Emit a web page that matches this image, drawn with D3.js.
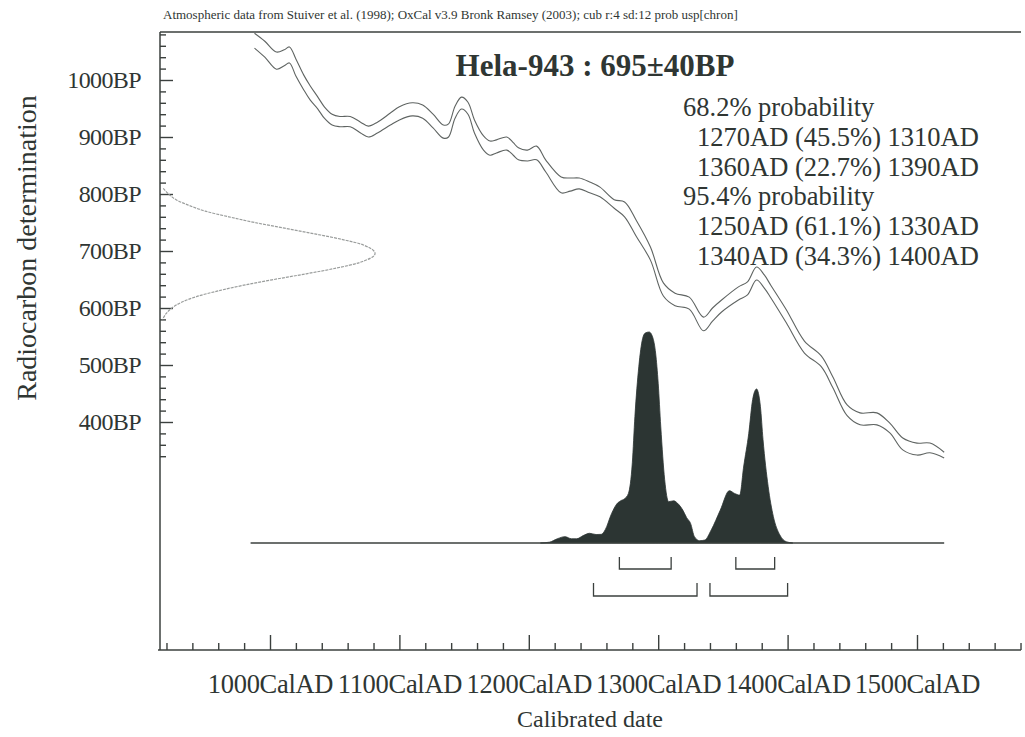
<!DOCTYPE html>
<html><head><meta charset="utf-8">
<script src="https://cdn.jsdelivr.net/npm/d3@7"></script>
<style>
html,body{margin:0;padding:0;background:#fff;}
svg{display:block;}
text{font-family:"Liberation Serif","Times New Roman",serif;fill:#2f3633;}
</style></head><body>
<svg id="chart" width="1025" height="737"></svg>
<script>
// ---------------- DATA ----------------
const headerText = "Atmospheric data from Stuiver et al. (1998); OxCal v3.9 Bronk Ramsey (2003); cub r:4 sd:12 prob usp[chron]";
const sampleTitle = "Hela-943 : 695\u00B140BP";
const xAxisTitle = "Calibrated date";
const yAxisTitle = "Radiocarbon determination";

const xMajorTicks = [1000, 1100, 1200, 1300, 1400, 1500];
const xTickSuffix = "CalAD";
const yMajorTicks = [400, 500, 600, 700, 800, 900, 1000];
const yTickSuffix = "BP";

// probability ranges
const probHeadings = ["68.2% probability", "95.4% probability"];
const ranges68 = [[1270, 1310], [1360, 1390]];
const pct68 = ["45.5", "22.7"];
const ranges95 = [[1250, 1330], [1340, 1400]];
const pct95 = ["61.1", "34.3"];

// calibration curve (upper and lower 1-sigma envelopes), years AD vs BP
const calYears = [988, 996, 1005, 1011, 1015, 1020, 1026, 1031, 1037, 1042, 1048, 1054, 1062, 1070, 1076, 1083, 1093, 1100, 1110, 1118, 1126, 1134, 1138, 1143, 1148, 1153, 1158, 1165, 1170, 1175, 1183, 1188, 1192, 1199, 1206, 1213, 1225, 1232, 1239, 1247, 1255, 1266, 1274, 1283, 1294, 1304, 1313, 1324, 1335, 1342, 1349, 1362, 1369, 1376, 1382, 1387, 1399, 1413, 1426, 1435, 1446, 1456, 1469, 1479, 1489, 1500, 1510, 1521];
const calUpper = [1082, 1068, 1049, 1053, 1058, 1037, 1009, 990, 970, 953, 940, 936, 936, 926, 919, 926, 942, 953, 960, 956, 940, 921, 923, 954, 970, 961, 930, 902, 893, 895, 900, 890, 881, 877, 884, 860, 830, 828, 828, 821, 812, 790, 786, 754, 707, 644, 626, 619, 584, 600, 614, 637, 646, 672, 658, 640, 597, 542, 516, 479, 430, 416, 416, 398, 372, 363, 363, 347];
const calLower = [1056, 1040, 1019, 1025, 1030, 1007, 983, 965, 949, 933, 921, 918, 918, 907, 900, 907, 921, 930, 937, 933, 916, 898, 900, 933, 949, 940, 907, 877, 868, 872, 877, 868, 860, 858, 860, 839, 802, 805, 809, 802, 795, 775, 760, 726, 684, 621, 604, 598, 560, 577, 593, 614, 623, 649, 635, 618, 574, 521, 497, 460, 411, 395, 395, 381, 351, 342, 346, 337];
const calRange = [985, 1521];

// calibrated probability distribution (relative)
const probYears = [1209, 1216, 1222, 1228, 1233, 1237, 1242, 1247, 1252, 1256, 1259, 1264, 1268, 1271, 1274, 1277, 1280, 1282, 1285, 1288, 1290, 1293, 1296, 1298, 1300, 1302, 1305, 1308, 1312, 1315, 1319, 1322, 1325, 1328, 1332, 1336, 1341, 1348, 1355, 1359, 1363, 1366, 1370, 1373, 1376, 1379, 1381, 1385, 1389, 1394, 1399, 1404];
const probValues = [0.0, 0.004, 0.02, 0.03, 0.02, 0.02, 0.035, 0.046, 0.04, 0.041, 0.062, 0.14, 0.185, 0.2, 0.21, 0.235, 0.38, 0.6, 0.835, 0.97, 0.995, 1.0, 0.97, 0.9, 0.757, 0.55, 0.3, 0.196, 0.2, 0.188, 0.156, 0.12, 0.093, 0.03, 0.011, 0.014, 0.062, 0.156, 0.248, 0.235, 0.227, 0.36, 0.52, 0.68, 0.73, 0.646, 0.49, 0.267, 0.125, 0.038, 0.006, 0.0];

// radiocarbon measurement distribution (relative), BP
const measBP = [810, 800, 790, 780, 770, 760, 750, 740, 730, 720, 710, 700, 695, 690, 680, 670, 660, 650, 640, 630, 620, 610, 600, 590, 580];
const measDensity = [0.015, 0.04, 0.075, 0.135, 0.21, 0.32, 0.44, 0.58, 0.72, 0.85, 0.95, 0.995, 1.0, 0.99, 0.93, 0.82, 0.68, 0.53, 0.39, 0.27, 0.17, 0.1, 0.055, 0.028, 0.012];

// ---------------- CHART ----------------
const svg = d3.select("#chart");
const ink = "#2f3633";
const frameL = 160, frameR = 1021, frameT = 32, frameB = 650;

const x = d3.scaleLinear().domain([1000, 1500]).range([270, 917]);
const y = d3.scaleLinear().domain([1000, 400]).range([80, 422]);
const p = d3.scaleLinear().domain([0, 1]).range([543, 332]);
const g = d3.scaleLinear().domain([0, 1]).range([frameL, 375]);

// header
svg.append("text").attr("x", 163).attr("y", 19).attr("font-size", 13)
  .attr("fill", ink).text(headerText);

// frame lines
svg.append("line").attr("x1", frameL).attr("x2", frameR).attr("y1", frameT).attr("y2", frameT)
  .attr("stroke", "#3b403e").attr("stroke-width", 1.3);
svg.append("line").attr("x1", frameL).attr("x2", frameL).attr("y1", frameT).attr("y2", frameB)
  .attr("stroke", "#3b403e").attr("stroke-width", 1.5);
svg.append("line").attr("x1", frameL - 2).attr("x2", frameR).attr("y1", frameB).attr("y2", frameB)
  .attr("stroke", "#3b403e").attr("stroke-width", 1.5);

// y axis
const yMinor = d3.range(340, 1081, 20).filter(v => v % 100 !== 0);
const yMinorAxis = d3.axisLeft(y).tickValues(yMinor).tickSize(-6).tickFormat("");
const yMajorAxis = d3.axisLeft(y).tickValues(yMajorTicks).tickSize(-13).tickPadding(19)
  .tickFormat(d => d + yTickSuffix);
[yMinorAxis, yMajorAxis].forEach(ax => {
  const gg = svg.append("g").attr("transform", `translate(${frameL},0)`).call(ax);
  gg.select(".domain").remove();
  gg.selectAll(".tick line").attr("stroke", "#3b403e").attr("stroke-width", 1.4);
  gg.selectAll("text").attr("font-size", 24).attr("letter-spacing", "-0.6px")
    .attr("fill", ink).attr("font-family", "Liberation Serif");
});

// x axis
const xMinor = d3.range(920, 1581, 20).filter(v => v % 100 !== 0);
const xMinorAxis = d3.axisBottom(x).tickValues(xMinor).tickSize(-7).tickFormat("");
const xMajorAxis = d3.axisBottom(x).tickValues(xMajorTicks).tickSize(-15).tickPadding(24)
  .tickFormat(d => d + xTickSuffix);
[xMinorAxis, xMajorAxis].forEach(ax => {
  const gg = svg.append("g").attr("transform", `translate(0,${frameB})`).call(ax);
  gg.select(".domain").remove();
  gg.selectAll(".tick line").attr("stroke", "#3b403e").attr("stroke-width", 1.4);
  gg.selectAll("text").attr("font-size", 26.5).attr("letter-spacing", "-0.3px")
    .attr("fill", ink).attr("font-family", "Liberation Serif");
});

// axis titles
svg.append("text").attr("x", 590).attr("y", 727).attr("text-anchor", "middle")
  .attr("font-size", 24).attr("fill", ink).text(xAxisTitle);
svg.append("text").attr("transform", "translate(36,248) rotate(-90)").attr("text-anchor", "middle")
  .attr("font-size", 28).attr("fill", ink).text(yAxisTitle);

// measurement gaussian on y axis
const measData = measBP.map((b, i) => ({b, d: measDensity[i]}));
svg.append("path").datum(measData)
  .attr("d", d3.line().x(d => g(d.d)).y(d => y(d.b)).curve(d3.curveCatmullRom))
  .attr("fill", "none").attr("stroke", "#9a9d9c").attr("stroke-width", 1.2)
  .attr("stroke-dasharray", "3,1");

// calibration curve
const calU = calYears.map((yr, i) => ({yr, v: calUpper[i]}));
const calL = calYears.map((yr, i) => ({yr, v: calLower[i]}));
const calLine = d3.line().x(d => x(d.yr)).y(d => y(d.v)).curve(d3.curveCatmullRom.alpha(0.5));
[calU, calL].forEach(dat => {
  svg.append("path").datum(dat).attr("d", calLine)
    .attr("fill", "none").attr("stroke", "#5f6462").attr("stroke-width", 1.1);
});

// probability distribution
const probData = probYears.map((yr, i) => ({yr, v: probValues[i]}));
svg.append("path").datum(probData)
  .attr("d", d3.area().x(d => x(d.yr)).y0(p(0)).y1(d => p(d.v)).curve(d3.curveMonotoneX))
  .attr("fill", "#2c3533").attr("stroke", "#2c3533").attr("stroke-width", 0.8);
svg.append("line").attr("x1", x(calRange[0])).attr("x2", x(calRange[1]))
  .attr("y1", p(0)).attr("y2", p(0)).attr("stroke", "#3b403e").attr("stroke-width", 1.4);

// range brackets
function bracket(r, yTop, yBot) {
  svg.append("path")
    .attr("d", `M${x(r[0])},${yTop}V${yBot}H${x(r[1])}V${yTop}`)
    .attr("fill", "none").attr("stroke", "#3b403e").attr("stroke-width", 1.3);
}
ranges68.forEach(r => bracket(r, 557, 569));
ranges95.forEach(r => bracket(r, 583, 596));

// title
svg.append("text").attr("x", 595).attr("y", 76).attr("text-anchor", "middle")
  .attr("font-size", 31).attr("font-weight", "bold").attr("fill", ink).text(sampleTitle);

// probability text block
const lines = [];
lines.push({t: probHeadings[0], indent: false});
ranges68.forEach((r, i) => lines.push({t: `${r[0]}AD (${pct68[i]}%) ${r[1]}AD`, indent: true}));
lines.push({t: probHeadings[1], indent: false});
ranges95.forEach((r, i) => lines.push({t: `${r[0]}AD (${pct95[i]}%) ${r[1]}AD`, indent: true}));
lines.forEach((l, i) => {
  svg.append("text").attr("x", l.indent ? 697 : 683).attr("y", 116 + i * 29.8)
    .attr("font-size", 26.5).attr("letter-spacing", "0px").attr("fill", ink).text(l.t);
});
</script>
</body></html>
